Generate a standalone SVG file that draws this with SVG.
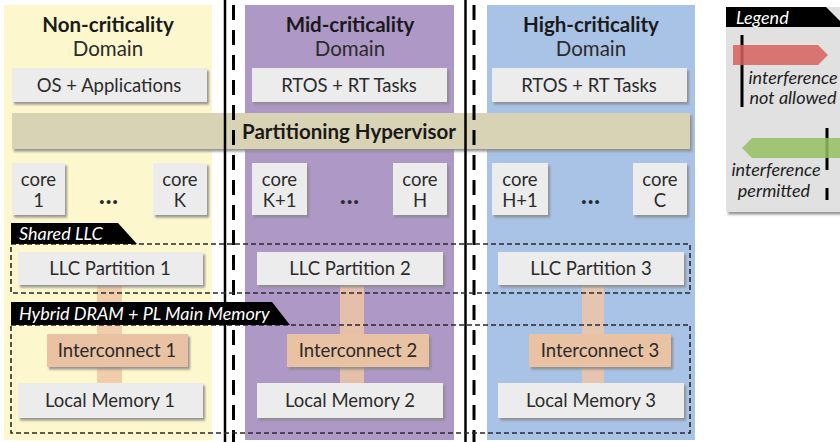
<svg xmlns="http://www.w3.org/2000/svg" width="840" height="442" viewBox="0 0 840 442">
<defs>
<filter id="sh" x="-10%" y="-10%" width="130%" height="140%">
<feDropShadow dx="2" dy="2.5" stdDeviation="0.8" flood-color="#8a8a8a" flood-opacity="0.9"/>
</filter>
</defs>
<style>
text{font-family:Lato,"Open Sans","Liberation Sans",sans-serif;fill:#2b2b2b;text-anchor:middle}
.h{font-weight:bold;font-size:20.5px;fill:#1a1a1a}
.d{font-size:20.5px}
.l{font-size:18.5px}
.box{fill:#ececec;filter:url(#sh)}
.ic{fill:#e9c2a3;filter:url(#sh)}
.core{fill:#ececec;filter:url(#sh)}
.dots{font-weight:900;font-size:24px;letter-spacing:1px}
.dash{fill:none;stroke:#2a2a2a;stroke-width:1.6;stroke-dasharray:5 3}
.tab{fill:#000}
.tt{font-style:italic;font-size:18px;fill:#fff;text-anchor:start}
.sep{stroke:#000;stroke-width:2.5}
.sepd{stroke:#000;stroke-width:3;stroke-dasharray:15 10}
.conn{fill:#f0c6a6;opacity:0.85}
.lt{font-style:italic;font-size:18px;fill:#1e1e1e}
</style>
<!-- columns -->
<rect x="4" y="5" width="208" height="435" fill="#fcf7cc"/>
<rect x="245" y="5" width="209" height="435" fill="#ad98c6"/>
<rect x="487" y="5" width="208" height="435" fill="#a9c3e6"/>
<!-- connectors -->
<g id="connectors">
<rect class="conn" x="97" y="285" width="25" height="98"/>
<rect class="conn" x="340" y="285" width="24" height="98"/>
<rect class="conn" x="582" y="285" width="22" height="98"/>
</g>
<!-- headings -->
<g id="dom1">
<text class="h" x="108" y="32">Non-criticality</text>
<text class="d" x="108" y="56">Domain</text>
</g>
<g id="dom2">
<text class="h" x="350" y="32">Mid-criticality</text>
<text class="d" x="350" y="56">Domain</text>
</g>
<g id="dom3">
<text class="h" x="591" y="32">High-criticality</text>
<text class="d" x="591" y="56">Domain</text>
</g>
<g id="os1"><rect class="box" x="12" y="68" width="195" height="34"/><text class="l" x="109" y="92">OS + Applications</text></g>
<g id="rtos2"><rect class="box" x="252" y="68" width="195" height="34"/><text class="l" x="349" y="92">RTOS + RT Tasks</text></g>
<g id="rtos3"><rect class="box" x="492" y="68" width="195" height="34"/><text class="l" x="589" y="92">RTOS + RT Tasks</text></g>
<g id="hypervisor"><rect x="12" y="113" width="678" height="36" fill="#d9d3b5" filter="url(#sh)"/><text class="h" x="349" y="139">Partitioning Hypervisor</text></g>
<!-- cores -->
<g id="core1"><rect class="core" x="12" y="163" width="53" height="52"/><text class="l" x="38.5" y="186">core</text><text class="l" x="38.5" y="207">1</text></g>
<g id="dots1"><text class="dots" x="109" y="204">...</text></g>
<g id="coreK"><rect class="core" x="153" y="163" width="54" height="52"/><text class="l" x="180" y="186">core</text><text class="l" x="180" y="207">K</text></g>
<g id="coreK1"><rect class="core" x="252" y="163" width="55" height="52"/><text class="l" x="279.5" y="186">core</text><text class="l" x="279.5" y="207">K+1</text></g>
<g id="dots2"><text class="dots" x="350" y="204">...</text></g>
<g id="coreH"><rect class="core" x="393" y="163" width="54" height="52"/><text class="l" x="420" y="186">core</text><text class="l" x="420" y="207">H</text></g>
<g id="coreH1"><rect class="core" x="492" y="163" width="56" height="52"/><text class="l" x="520" y="186">core</text><text class="l" x="520" y="207">H+1</text></g>
<g id="dots3"><text class="dots" x="591" y="204">...</text></g>
<g id="coreC"><rect class="core" x="633" y="163" width="54" height="52"/><text class="l" x="660" y="186">core</text><text class="l" x="660" y="207">C</text></g>
<!-- LLC -->
<g id="llc1"><rect class="box" x="18" y="252" width="185" height="33"/><text class="l" x="110" y="275">LLC Partition 1</text></g>
<g id="llc2"><rect class="box" x="257" y="252" width="186" height="33"/><text class="l" x="350" y="275">LLC Partition 2</text></g>
<g id="llc3"><rect class="box" x="498" y="252" width="186" height="33"/><text class="l" x="591" y="275">LLC Partition 3</text></g>
<!-- interconnects -->
<g id="ic1"><rect class="ic" x="47" y="334" width="141" height="33"/><text class="l" x="117" y="357">Interconnect 1</text></g>
<g id="ic2"><rect class="ic" x="287" y="334" width="142" height="33"/><text class="l" x="358" y="357">Interconnect 2</text></g>
<g id="ic3"><rect class="ic" x="529" y="334" width="142" height="33"/><text class="l" x="600" y="357">Interconnect 3</text></g>
<!-- local memories -->
<g id="mem1"><rect class="box" x="18" y="383" width="185" height="35"/><text class="l" x="110" y="407">Local Memory 1</text></g>
<g id="mem2"><rect class="box" x="257" y="383" width="186" height="35"/><text class="l" x="350" y="407">Local Memory 2</text></g>
<g id="mem3"><rect class="box" x="498" y="383" width="186" height="35"/><text class="l" x="591" y="407">Local Memory 3</text></g>
<!-- separators -->
<g id="separators">
<line class="sep" x1="225" y1="0" x2="225" y2="442"/>
<line class="sepd" x1="233.5" y1="5" x2="233.5" y2="442"/>
<line class="sep" x1="465.5" y1="0" x2="465.5" y2="442"/>
<line class="sepd" x1="474" y1="5" x2="474" y2="442"/>
</g>
<!-- dashed groups -->
<g id="sharedLLC">
<rect class="dash" x="11" y="244" width="679" height="49"/>
<polygon class="tab" points="11,223 118,223 137,244 11,244"/>
<text class="tt" x="19" y="240">Shared LLC</text>
</g>
<g id="mainMemory">
<rect class="dash" x="11" y="325" width="679" height="108"/>
<polygon class="tab" points="11,302 272,302 290,325 11,325"/>
<text class="tt" x="19" y="320">Hybrid DRAM + PL Main Memory</text>
</g>
<!-- legend -->
<g id="legend">
<rect x="726" y="7" width="116" height="205" fill="#e1e1e1" filter="url(#sh)"/>
<polygon class="tab" points="726,7 826,7 846,27 726,27"/>
<text class="tt" x="736" y="24">Legend</text>
<line x1="742" y1="35" x2="742" y2="107" stroke="#000" stroke-width="3"/>
<polygon points="733,45 818,45 828,55 818,65 733,65" fill="#d6605d" opacity="0.85"/>
<text class="lt" x="793" y="84">interference</text>
<text class="lt" x="793" y="104">not allowed</text>
<line x1="827" y1="128" x2="827" y2="170" stroke="#000" stroke-width="3"/>
<line x1="827" y1="188" x2="827" y2="200" stroke="#000" stroke-width="3"/>
<polygon points="742,148 752,138 840,138 840,158 752,158" fill="#94c060" opacity="0.85"/>
<text class="lt" x="776" y="176">interference</text>
<text class="lt" x="774" y="197">permitted</text>
</g>
</svg>
